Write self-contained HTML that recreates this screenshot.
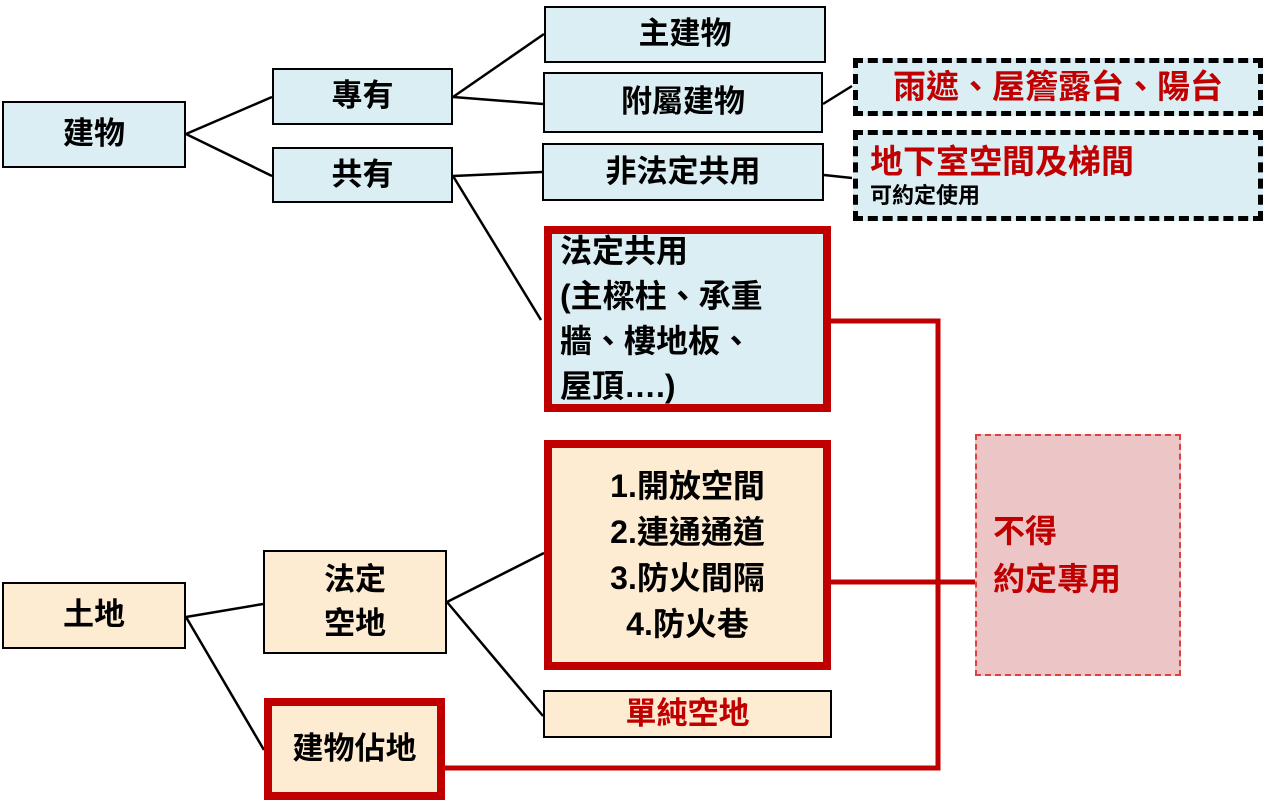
<!DOCTYPE html>
<html><head><meta charset="utf-8"><style>
body{margin:0;width:1268px;height:808px;background:#fff;position:relative;overflow:hidden;font-family:"Liberation Sans","Noto Sans CJK TC",sans-serif;font-weight:bold;}
.b{position:absolute;box-sizing:border-box;display:flex;align-items:center;justify-content:center;font-size:31px;color:#000;text-align:center;line-height:1.25;}
.blue{background:#daeef3;border:2px solid #000;}
.or{background:#feecd2;border:2px solid #000;}
.red{border:8px solid #c00000;}
.dash{background:#daeef3;border:5px dashed #000;}
svg{position:absolute;left:0;top:0;}
</style></head><body>
<svg width="1268" height="808">
<g stroke="#000" stroke-width="2.5" fill="none">
<line x1="186" y1="134" x2="272" y2="97"/><line x1="186" y1="134" x2="272" y2="176"/>
<line x1="453" y1="97" x2="544" y2="34"/><line x1="453" y1="97" x2="543" y2="104"/>
<line x1="453" y1="176" x2="542" y2="172"/><line x1="453" y1="176" x2="541" y2="320"/>
<line x1="823" y1="104" x2="852" y2="86"/><line x1="824" y1="175" x2="852" y2="178"/>
<line x1="186" y1="617" x2="263" y2="604"/><line x1="186" y1="617" x2="264" y2="750"/>
<line x1="447" y1="602" x2="544" y2="553"/><line x1="447" y1="602" x2="543" y2="716"/>
</g>
<g stroke="#c00000" stroke-width="5" fill="none">
<polyline points="831,321 938,321 938,768 445,768"/>
<line x1="831" y1="582" x2="975" y2="582"/>
</g>
</svg>
<div class="b blue" style="left:2px;top:101px;width:184px;height:67px">建物</div>
<div class="b blue" style="left:272px;top:68px;width:181px;height:57px">專有</div>
<div class="b blue" style="left:272px;top:147px;width:181px;height:56px">共有</div>
<div class="b blue" style="left:544px;top:6px;width:282px;height:57px">主建物</div>
<div class="b blue" style="left:543px;top:72px;width:280px;height:61px">附屬建物</div>
<div class="b blue" style="left:542px;top:143px;width:282px;height:58px">非法定共用</div>
<div class="b dash" style="left:853px;top:58px;width:410px;height:58px;color:#c00000;font-size:33px">雨遮、屋簷露台、陽台</div>
<div class="b dash" style="left:853px;top:130px;width:410px;height:91px;flex-direction:column;align-items:flex-start;padding-left:12px;justify-content:center"><div style="color:#c00000;font-size:33px;line-height:1.2">地下室空間及梯間</div><div style="font-size:22px">可約定使用</div></div>
<div class="b blue red" style="left:544px;top:226px;width:287px;height:186px;justify-content:flex-start;align-items:flex-start;text-align:left;padding:0 0 0 8px;line-height:45px;font-size:32px"><div style="margin-top:-5px">法定共用<br>(主樑柱、承重<br>牆、樓地板、<br>屋頂….)</div></div>
<div class="b or red" style="left:544px;top:440px;width:287px;height:230px;line-height:46px;font-size:32px">1.開放空間<br>2.連通通道<br>3.防火間隔<br>4.防火巷</div>
<div class="b or" style="left:543px;top:690px;width:289px;height:48px;color:#c00000">單純空地</div>
<div class="b or" style="left:263px;top:550px;width:184px;height:104px;line-height:44px">法定<br>空地</div>
<div class="b or" style="left:2px;top:582px;width:184px;height:67px">土地</div>
<div class="b or red" style="left:264px;top:698px;width:181px;height:102px">建物佔地</div>
<div class="b" style="left:975px;top:434px;width:206px;height:242px;background:#ecc6c6;border:2px dashed #e04040;color:#c00000;justify-content:flex-start;text-align:left;padding-left:16px;line-height:48px;font-size:32px">不得<br>約定專用</div>
</body></html>
